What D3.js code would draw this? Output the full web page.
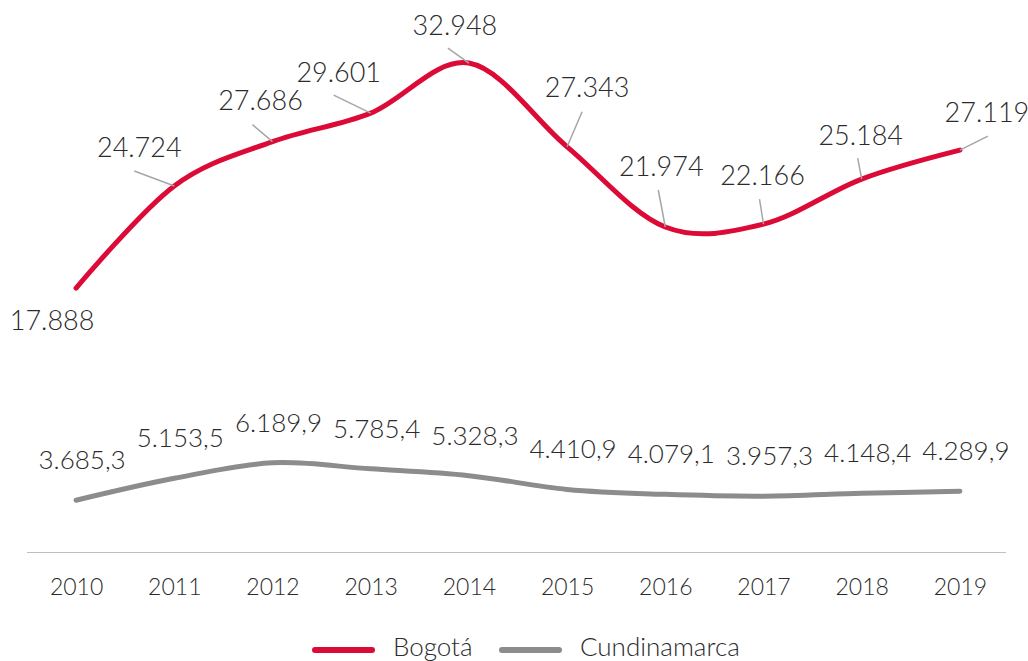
<!DOCTYPE html>
<html>
<head>
<meta charset="utf-8">
<script src="https://cdn.jsdelivr.net/npm/d3@7"></script>
<style>
  html, body { margin: 0; padding: 0; background: #fff; }
  svg { display: block; font-family: "Lato", "Open Sans", sans-serif; font-weight: 300; }
</style>
</head>
<body>
<svg id="chart" width="1028" height="661"></svg>
<script>
// ---- data ----
const years = ["2010","2011","2012","2013","2014","2015","2016","2017","2018","2019"];
const bogota = [17888, 24724, 27686, 29601, 32948, 27343, 21974, 22166, 25184, 27119];
const cundinamarca = [3685.3, 5153.5, 6189.9, 5785.4, 5328.3, 4410.9, 4079.1, 3957.3, 4148.4, 4289.9];
const seriesNames = ["Bogotá", "Cundinamarca"];

// manual label placement for Bogotá (text offset dx,dy ; leader start lx,ly), relative to point
const bogLabelLayout = [
  {dx:-24, dy:42,  lx:null, ly:null},
  {dx:-35, dy:-29, lx:-40, ly:-15},
  {dx:-12, dy:-32, lx:-20, ly:-17},
  {dx:-32, dy:-31, lx:-37, ly:-18},
  {dx:-14, dy:-28, lx:-21, ly:-15},
  {dx:20,  dy:-50, lx:15,  ly:-35},
  {dx:-4,  dy:-51, lx:-7,  ly:-37},
  {dx:-1,  dy:-39, lx:-4,  ly:-25},
  {dx:-1,  dy:-34, lx:-4,  ly:-21},
  {dx:27,  dy:-28, lx:28,  ly:-14}
];

const colors = { bog: "#DC0A37", cun: "#8C8C8C", leader: "#A6A6A6", text: "#2B2B2B", axis: "#BFBFBF" };

const locale = d3.formatLocale({ decimal: ",", thousands: ".", grouping: [3], currency: ["$", ""] });
const fmtBog = locale.format(",.0f");
const fmtCun = locale.format(",.1f");

const svg = d3.select("#chart");

const x = d3.scalePoint().domain(years).range([27, 1009]).padding(0.5);
const y = d3.scaleLinear().domain([0, 35000]).range([555.3, 32.4]);

// baseline axis line
svg.append("line")
  .attr("x1", 27).attr("x2", 1006)
  .attr("y1", 552.5).attr("y2", 552.5)
  .attr("stroke", colors.axis).attr("stroke-width", 1);

// x axis labels
const xAxis = d3.axisBottom(x).tickSize(0).tickPadding(27);
const gx = svg.append("g").attr("transform", "translate(0,552)").call(xAxis);
gx.select(".domain").remove();
gx.selectAll("text")
  .attr("fill", colors.text)
  .style("font-size", "23px")
  .style("font-family", "Lato, 'Open Sans', sans-serif")
  .style("font-weight", 300);

const line = d3.line()
  .x((d, i) => x(years[i]))
  .y(d => y(d))
  .curve(d3.curveCardinal.tension(0));

// Cundinamarca line
svg.append("path")
  .datum(cundinamarca)
  .attr("d", line)
  .attr("fill", "none")
  .attr("stroke", colors.cun)
  .attr("stroke-width", 5)
  .attr("stroke-linecap", "round");

// Bogotá line
svg.append("path")
  .datum(bogota)
  .attr("d", line)
  .attr("fill", "none")
  .attr("stroke", colors.bog)
  .attr("stroke-width", 5)
  .attr("stroke-linecap", "round");

// Bogotá leader lines
svg.append("g").selectAll("line")
  .data(bogota.map((v, i) => ({v, i, l: bogLabelLayout[i]})).filter(d => d.l.lx !== null))
  .join("line")
  .attr("x1", d => x(years[d.i]) + d.l.lx)
  .attr("y1", d => y(d.v) + d.l.ly)
  .attr("x2", d => x(years[d.i]))
  .attr("y2", d => y(d.v))
  .attr("stroke", colors.leader)
  .attr("stroke-width", 1.5);

// Bogotá labels
svg.append("g").selectAll("text")
  .data(bogota)
  .join("text")
  .attr("x", (d, i) => x(years[i]) + bogLabelLayout[i].dx)
  .attr("y", (d, i) => y(d) + bogLabelLayout[i].dy)
  .attr("text-anchor", "middle")
  .attr("fill", colors.text)
  .style("font-size", "27px")
  .text(d => fmtBog(d));

// Cundinamarca labels
svg.append("g").selectAll("text")
  .data(cundinamarca)
  .join("text")
  .attr("x", (d, i) => x(years[i]) + 6)
  .attr("y", d => y(d) - 31)
  .attr("text-anchor", "middle")
  .attr("fill", colors.text)
  .style("font-size", "26px")
  .text(d => fmtCun(d));

// legend
const legend = svg.append("g");
const legendItems = [
  {name: seriesNames[0], color: colors.bog, x1: 312, x2: 375, tx: 393},
  {name: seriesNames[1], color: colors.cun, x1: 499, x2: 562, tx: 580}
];
legendItems.forEach(it => {
  legend.append("line")
    .attr("x1", it.x1 + 3).attr("x2", it.x2 - 3)
    .attr("y1", 650).attr("y2", 650)
    .attr("stroke", it.color).attr("stroke-width", 6)
    .attr("stroke-linecap", "round");
  legend.append("text")
    .attr("x", it.tx).attr("y", 656)
    .attr("fill", colors.text)
    .style("font-size", "26px")
    .text(it.name);
});
</script>
</body>
</html>
